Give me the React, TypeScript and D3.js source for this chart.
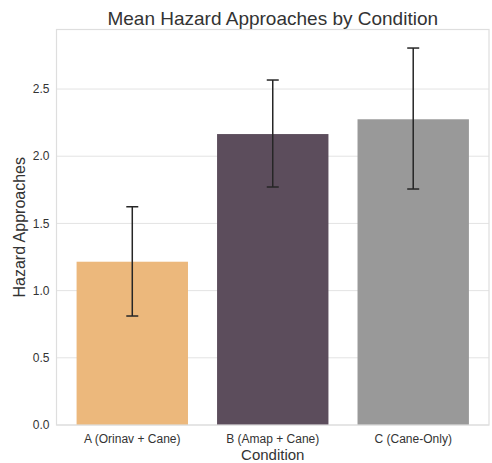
import React, { useEffect, useRef } from 'react';
import * as d3 from 'd3';

const conditions = ['A (Orinav + Cane)', 'B (Amap + Cane)', 'C (Cane-Only)'];
const means = [1.215, 2.165, 2.275];
const ciLow = [0.811, 1.771, 1.756];
const ciHigh = [1.624, 2.567, 2.805];
const barColors = ['#ecb87c', '#5c4d5c', '#999999'];
const yTicks = [0, 0.5, 1.0, 1.5, 2.0, 2.5];

const App = () => {
  const svgRef = useRef<SVGSVGElement>(null);

  useEffect(() => {
    const width = 492;
    const height = 463;
    const svg = d3.select(svgRef.current);
    svg.selectAll('*').remove();

    const margin = { top: 29.5, right: 3, bottom: 38, left: 56.5 };
    const innerW = width - margin.left - margin.right;
    const innerH = height - margin.top - margin.bottom;

    const g = svg.append('g').attr('transform', `translate(${margin.left},${margin.top})`);

    const x = d3.scaleBand<string>()
      .domain(conditions)
      .range([0, innerW])
      .paddingInner(0.207)
      .paddingOuter(0.143);

    const y = d3.scaleLinear().domain([0, 2.943]).range([innerH, 0]);

    // grid lines
    g.selectAll('.grid')
      .data(yTicks)
      .enter().append('line')
      .attr('x1', 0)
      .attr('x2', innerW)
      .attr('y1', d => y(d))
      .attr('y2', d => y(d))
      .attr('stroke', '#e3e3e3')
      .attr('stroke-width', 1);

    // bars
    g.selectAll('.bar')
      .data(conditions)
      .enter().append('rect')
      .attr('x', d => x(d)!)
      .attr('width', x.bandwidth())
      .attr('y', (d, i) => y(means[i]))
      .attr('height', (d, i) => innerH - y(means[i]))
      .attr('fill', (d, i) => barColors[i]);

    // error bars
    const cap = 6;
    conditions.forEach((c, i) => {
      const cx = x(c)! + x.bandwidth() / 2;
      const eg = g.append('g').attr('stroke', '#262626').attr('stroke-width', 1.5);
      eg.append('line').attr('x1', cx).attr('x2', cx).attr('y1', y(ciLow[i])).attr('y2', y(ciHigh[i]));
      eg.append('line').attr('x1', cx - cap).attr('x2', cx + cap).attr('y1', y(ciLow[i])).attr('y2', y(ciLow[i]));
      eg.append('line').attr('x1', cx - cap).attr('x2', cx + cap).attr('y1', y(ciHigh[i])).attr('y2', y(ciHigh[i]));
    });

    // frame
    g.append('rect')
      .attr('x', 0)
      .attr('y', 0)
      .attr('width', innerW)
      .attr('height', innerH)
      .attr('fill', 'none')
      .attr('stroke', '#dedede')
      .attr('stroke-width', 1.2);

    // y tick labels
    g.selectAll('.ytick')
      .data(yTicks)
      .enter().append('text')
      .attr('x', -7)
      .attr('y', d => y(d))
      .attr('dy', '0.35em')
      .attr('text-anchor', 'end')
      .style('font-size', '12px')
      .style('fill', '#333')
      .text(d => d.toFixed(1));

    // x tick labels
    g.selectAll('.xtick')
      .data(conditions)
      .enter().append('text')
      .attr('x', d => x(d)! + x.bandwidth() / 2)
      .attr('y', innerH + 17.5)
      .attr('text-anchor', 'middle')
      .style('font-size', '12px')
      .style('fill', '#333')
      .text(d => d);

    // axis labels
    g.append('text')
      .attr('x', innerW / 2)
      .attr('y', innerH + 35)
      .attr('text-anchor', 'middle')
      .style('font-size', '15px')
      .style('fill', '#333')
      .text('Condition');

    g.append('text')
      .attr('transform', 'rotate(-90)')
      .attr('x', -innerH / 2)
      .attr('y', -32)
      .attr('text-anchor', 'middle')
      .style('font-size', '16px')
      .style('fill', '#333')
      .text('Hazard Approaches');

    // title
    g.append('text')
      .attr('x', innerW / 2)
      .attr('y', -5)
      .attr('text-anchor', 'middle')
      .style('font-size', '19px')
      .style('fill', '#333')
      .text('Mean Hazard Approaches by Condition');
  }, []);

  return (
    <svg
      ref={svgRef}
      width={492}
      height={463}
      style={{ position: 'absolute', left: 0, top: 0, background: '#fff', fontFamily: '"Liberation Sans", Arial, sans-serif' }}
    />
  );
};

export default App;
